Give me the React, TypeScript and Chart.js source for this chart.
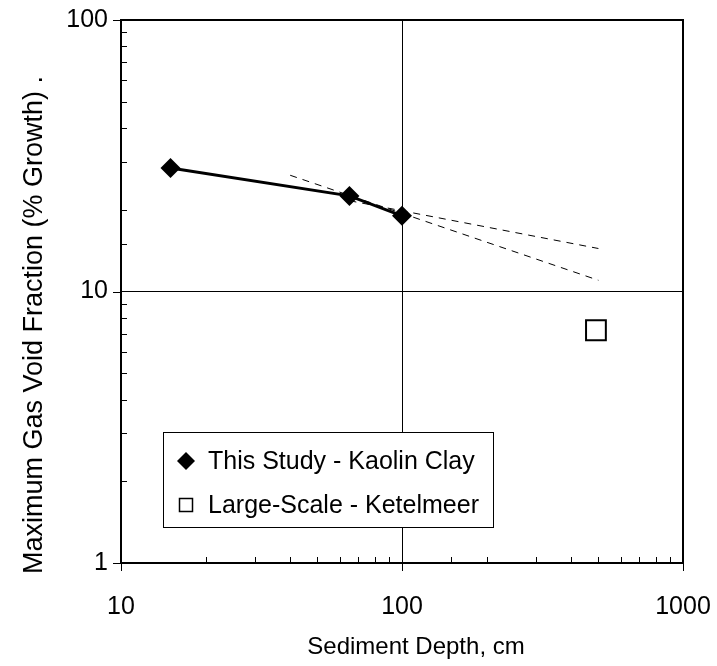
import React, { useEffect, useRef } from 'react';
import { Chart, registerables } from 'chart.js';

Chart.register(...registerables);

// ---- data ----
const studyDepth = [15, 65, 100];
const studyVoid = [28.5, 22.5, 19.0];
const largeDepth = [490];
const largeVoid = [7.2];
const trendUpperX = [65, 500];
const trendUpperY = [21.6, 14.4];
const trendLowerX = [40, 500];
const trendLowerY = [26.8, 11.0];
const xMajorTicks = [10, 100, 1000];
const yMajorTicks = [1, 10, 100];
const xGridValues = [100];
const yGridValues = [10];
const seriesLabels = ['This Study - Kaolin Clay', 'Large-Scale - Ketelmeer'];
const xTitle = 'Sediment Depth, cm';
const yTitle = 'Maximum Gas Void Fraction (% Growth) .';

const FONT = "'Liberation Sans', Arial, sans-serif";

const isMajor = (v: number) => Math.abs(Math.log10(v) - Math.round(Math.log10(v))) < 1e-9;

const frameTicksPlugin = {
  id: 'frameTicks',
  afterDraw(chart: any) {
    const { ctx, chartArea } = chart;
    const xs = chart.scales.x;
    const ys = chart.scales.y;
    const { left, right, top, bottom } = chartArea;
    ctx.save();
    ctx.strokeStyle = '#000';
    ctx.lineWidth = 1;
    xs.ticks.forEach((t: any) => {
      const px = Math.round(xs.getPixelForValue(t.value)) + 0.5;
      ctx.beginPath();
      if (isMajor(t.value)) {
        ctx.moveTo(px, bottom);
        ctx.lineTo(px, bottom + 8);
      } else {
        ctx.moveTo(px, bottom);
        ctx.lineTo(px, bottom - 6);
      }
      ctx.stroke();
    });
    ys.ticks.forEach((t: any) => {
      const py = Math.round(ys.getPixelForValue(t.value)) + 0.5;
      ctx.beginPath();
      if (isMajor(t.value)) {
        ctx.moveTo(left, py);
        ctx.lineTo(left - 8, py);
      } else {
        ctx.moveTo(left, py);
        ctx.lineTo(left + 6, py);
      }
      ctx.stroke();
    });
    ctx.lineWidth = 2;
    ctx.beginPath();
    ctx.moveTo(left, top);
    ctx.lineTo(right, top);
    ctx.lineTo(right, bottom);
    ctx.stroke();

    // axis titles
    ctx.fillStyle = '#000';
    ctx.textAlign = 'center';
    ctx.textBaseline = 'middle';
    ctx.font = `24px ${FONT}`;
    ctx.fillText(xTitle, 416, 647);
    ctx.save();
    ctx.translate(35, 325);
    ctx.rotate(-Math.PI / 2);
    ctx.font = `27px ${FONT}`;
    ctx.fillText(yTitle, 0, 0);
    ctx.restore();

    // legend box
    const lx = 163, ly = 432, lw = 330, lh = 95;
    ctx.fillStyle = '#fff';
    ctx.fillRect(lx, ly, lw, lh);
    ctx.lineWidth = 1;
    ctx.strokeStyle = '#000';
    ctx.strokeRect(lx + 0.5, ly + 0.5, lw, lh);
    ctx.font = `25px ${FONT}`;
    ctx.textBaseline = 'middle';
    ctx.textAlign = 'left';
    ctx.fillStyle = '#000';
    const cy1 = ly + 29, cy2 = ly + 73, mx = lx + 23;
    ctx.beginPath();
    ctx.moveTo(mx, cy1 - 9);
    ctx.lineTo(mx + 9, cy1);
    ctx.lineTo(mx, cy1 + 9);
    ctx.lineTo(mx - 9, cy1);
    ctx.closePath();
    ctx.fill();
    ctx.fillText(seriesLabels[0], lx + 45, cy1 + 1);
    ctx.lineWidth = 1.5;
    ctx.strokeRect(mx - 6.5, cy2 - 6.5, 13, 13);
    ctx.fillText(seriesLabels[1], lx + 45, cy2 + 1);
    ctx.restore();
  },
};

export default function App() {
  const canvasRef = useRef<HTMLCanvasElement | null>(null);

  useEffect(() => {
    const canvas = canvasRef.current;
    if (!canvas) return;
    const chart = new Chart(canvas, {
      type: 'scatter',
      data: {
        datasets: [
          {
            label: seriesLabels[0],
            data: studyDepth.map((x, i) => ({ x, y: studyVoid[i] })),
            showLine: true,
            borderColor: '#000',
            borderWidth: 3,
            backgroundColor: '#000',
            pointStyle: 'rectRot',
            pointRadius: 10,
            pointBorderWidth: 0,
          },
          {
            label: seriesLabels[1],
            data: largeDepth.map((x, i) => ({ x, y: largeVoid[i] })),
            showLine: false,
            borderColor: '#000',
            backgroundColor: '#fff',
            pointStyle: 'rect',
            pointRadius: 14,
            pointBorderWidth: 2,
          },
          {
            label: 'trend upper',
            data: trendUpperX.map((x, i) => ({ x, y: trendUpperY[i] })),
            showLine: true,
            borderColor: '#000',
            borderWidth: 1,
            borderDash: [7, 6],
            pointRadius: 0,
          },
          {
            label: 'trend lower',
            data: trendLowerX.map((x, i) => ({ x, y: trendLowerY[i] })),
            showLine: true,
            borderColor: '#000',
            borderWidth: 1,
            borderDash: [7, 6],
            pointRadius: 0,
          },
        ],
      },
      options: {
        animation: false,
        responsive: false,
        devicePixelRatio: 1,
        layout: { padding: { top: 20, right: 34, left: 0, bottom: 0 } },
        plugins: {
          legend: { display: false },
          tooltip: { enabled: false },
        },
        scales: {
          x: {
            type: 'logarithmic',
            min: 10,
            max: 1000,
            border: { display: true, color: '#000', width: 2 },
            grid: {
              drawTicks: false,
              color: (c: any) => (c.tick && xGridValues.includes(c.tick.value) ? '#000' : 'rgba(0,0,0,0)'),
              lineWidth: 1,
            },
            ticks: {
              autoSkip: false,
              maxRotation: 0,
              padding: 29,
              color: '#000',
              font: { family: FONT, size: 25 },
              callback: (v: any) => (xMajorTicks.includes(Number(v)) ? String(v) : ''),
            },
            title: { display: false, text: xTitle },
            afterFit: (s: any) => {
              s.height = 103;
              s.paddingLeft = 0;
              s.paddingRight = 0;
            },
          },
          y: {
            type: 'logarithmic',
            min: 1,
            max: 100,
            border: { display: true, color: '#000', width: 2 },
            grid: {
              drawTicks: false,
              color: (c: any) => (c.tick && yGridValues.includes(c.tick.value) ? '#000' : 'rgba(0,0,0,0)'),
              lineWidth: 1,
            },
            ticks: {
              autoSkip: false,
              padding: 13,
              color: '#000',
              font: { family: FONT, size: 25 },
              callback: (v: any) => (yMajorTicks.includes(Number(v)) ? String(v) : ''),
            },
            title: { display: false, text: yTitle },
            afterFit: (s: any) => {
              s.width = 121;
              s.paddingTop = 0;
              s.paddingBottom = 0;
            },
          },
        },
      },
      plugins: [frameTicksPlugin],
    });
    return () => chart.destroy();
  }, []);

  return (
    <div style={{ position: 'fixed', left: 0, top: 0, width: 717, height: 666, background: '#fff' }}>
      <canvas ref={canvasRef} width={717} height={666} />
    </div>
  );
}
